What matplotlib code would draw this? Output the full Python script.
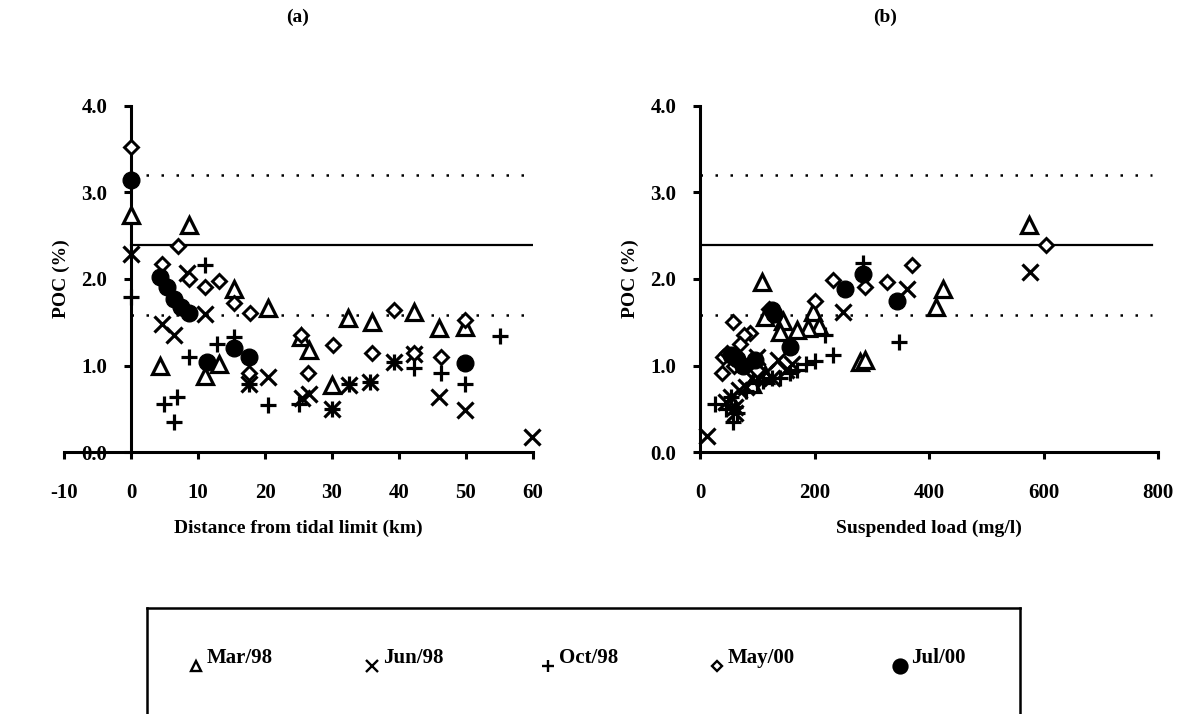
import matplotlib
matplotlib.use('Agg')
import matplotlib.pyplot as plt

plt.rcParams['font.family'] = ['Liberation Serif', 'DejaVu Serif']
plt.rcParams['font.weight'] = 'bold'
plt.rcParams['axes.unicode_minus'] = False

# POC (%) against distance from the tidal limit (km)
mar98_dist = [0, 8.7, 15.3, 20.5, 4.4, 11.1, 13.2, 25.3, 26.5, 30.0, 32.4, 35.9, 42.3, 45.9, 49.9]
mar98_poc_a = [2.74, 2.62, 1.88, 1.66, 1.00, 0.88, 1.02, 1.33, 1.18, 0.77, 1.55, 1.50, 1.62, 1.43, 1.45]
jun98_dist = [0, 8.4, 11.1, 4.6, 6.4, 17.6, 20.5, 25.5, 26.5, 30.0, 32.5, 35.7, 39.3, 42.3, 45.9, 49.9, 59.9]
jun98_poc_a = [2.29, 2.07, 1.59, 1.48, 1.35, 0.79, 0.87, 0.62, 0.67, 0.50, 0.77, 0.81, 1.04, 1.13, 0.64, 0.49, 0.17]
oct98_dist = [0, 11.1, 8.6, 12.8, 15.3, 17.6, 20.5, 4.9, 6.9, 6.4, 25.0, 30.0, 32.5, 35.7, 39.3, 42.3, 46.2, 49.9, 55.0]
oct98_poc_a = [1.79, 2.16, 1.10, 1.25, 1.33, 0.79, 0.54, 0.56, 0.64, 0.35, 0.55, 0.50, 0.79, 0.81, 1.04, 0.97, 0.91, 0.79, 1.34]
may00_dist = [0, 7.0, 4.6, 8.6, 11.1, 13.1, 15.3, 17.7, 17.6, 25.3, 26.4, 30.1, 35.9, 39.3, 42.3, 46.2, 49.9]
may00_poc_a = [3.53, 2.38, 2.17, 2.00, 1.91, 1.98, 1.72, 1.61, 0.91, 1.35, 0.91, 1.24, 1.15, 1.64, 1.15, 1.10, 1.53]
jul00_dist = [0, 4.3, 5.4, 6.4, 7.4, 8.6, 11.3, 15.3, 17.6, 49.9]
jul00_poc_a = [3.14, 2.02, 1.91, 1.77, 1.68, 1.61, 1.04, 1.20, 1.10, 1.03]

# POC (%) against suspended load (mg/l)
mar98_load = [575, 425, 413, 108, 114, 198, 207, 189, 169, 145, 140, 279, 288, 114, 90]
mar98_poc_b = [2.62, 1.89, 1.68, 1.97, 1.56, 1.62, 1.46, 1.43, 1.41, 1.52, 1.39, 1.04, 1.06, 0.89, 0.79]
jun98_load = [576, 361, 250, 137, 12, 55, 61, 125, 68, 45, 90, 150, 115, 80, 160, 100, 62]
jun98_poc_b = [2.08, 1.89, 1.62, 1.06, 0.18, 0.64, 0.52, 0.85, 0.72, 0.58, 0.85, 0.95, 0.92, 0.75, 1.02, 1.10, 0.45]
oct98_load = [285, 348, 218, 233, 186, 157, 125, 26, 58, 55, 61, 170, 140, 80, 100, 45, 200, 65, 110]
oct98_poc_b = [2.18, 1.27, 1.35, 1.12, 1.02, 0.91, 0.85, 0.56, 0.35, 0.64, 0.52, 0.95, 0.85, 0.70, 0.80, 0.50, 1.05, 0.45, 0.82]
may00_load = [604, 370, 326, 288, 233, 201, 58, 87, 76, 70, 41, 38, 48, 60, 100, 130, 120]
may00_poc_b = [2.39, 2.16, 1.97, 1.91, 1.99, 1.75, 1.50, 1.37, 1.35, 1.25, 1.10, 0.91, 1.15, 1.00, 0.95, 1.60, 1.65]
jul00_load = [285, 253, 344, 125, 157, 64, 96, 55, 75, 130]
jul00_poc_b = [2.06, 1.89, 1.75, 1.64, 1.21, 1.08, 1.06, 1.12, 1.00, 1.60]

labels = ['Mar/98', 'Jun/98', 'Oct/98', 'May/00', 'Jul/00']

# reference levels (dotted, solid, dotted)
ref_levels = [3.2, 2.39, 1.58]
ref_styles = [(0, (1, 5)), '-', (0, (1, 5))]

styles = {
    'Mar/98': dict(marker='^', ms=11.5, mfc='white', mec='black', mew=2.3),
    'Jun/98': dict(marker='x', ms=11.5, mfc='none', mec='black', mew=2.3),
    'Oct/98': dict(marker='+', ms=11.5, mfc='none', mec='black', mew=2.3),
    'May/00': dict(marker='D', ms=7.5, mfc='white', mec='black', mew=2.1),
    'Jul/00': dict(marker='o', ms=12, mfc='black', mec='black', mew=1),
}

series_a = [(mar98_dist, mar98_poc_a), (jun98_dist, jun98_poc_a), (oct98_dist, oct98_poc_a),
            (may00_dist, may00_poc_a), (jul00_dist, jul00_poc_a)]
series_b = [(mar98_load, mar98_poc_b), (jun98_load, jun98_poc_b), (oct98_load, oct98_poc_b),
            (may00_load, may00_poc_b), (jul00_load, jul00_poc_b)]

fig = plt.figure(figsize=(11.84, 7.14), dpi=100)
ax_a = fig.add_axes([64 / 1184, 1 - 452 / 714, 469 / 1184, 346 / 714])
ax_b = fig.add_axes([700 / 1184, 1 - 452 / 714, 458 / 1184, 346 / 714])


def setup(ax, xlim, xticks, xlabel, line_end):
    ax.set_xlim(*xlim)
    ax.set_ylim(0, 4)
    for s in ['top', 'right']:
        ax.spines[s].set_visible(False)
    ax.spines['left'].set_position(('data', 0))
    ax.spines['left'].set_linewidth(2.2)
    ax.spines['bottom'].set_linewidth(2.2)
    ax.set_xticks(xticks)
    ax.set_yticks([0, 1, 2, 3, 4])
    ax.set_yticklabels(['0.0', '1.0', '2.0', '3.0', '4.0'])
    ax.tick_params(direction='out', length=5, width=2.2, labelsize=15)
    ax.tick_params(axis='y', pad=12)
    ax.tick_params(axis='x', pad=17)
    ax.set_xlabel(xlabel, fontsize=14, fontweight='bold', labelpad=12)
    ax.set_ylabel('POC (%)', fontsize=14, fontweight='bold', labelpad=8)
    for lev, ls in zip(ref_levels, ref_styles):
        ax.plot([0, line_end], [lev, lev], color='black', lw=1.8 if ls != '-' else 1.6,
                ls=ls, zorder=1)


setup(ax_a, (-10, 60), range(-10, 61, 10), 'Distance from tidal limit (km)', 60)
setup(ax_b, (0, 800), range(0, 801, 200), 'Suspended load (mg/l)', 790)

for ax, series in [(ax_a, series_a), (ax_b, series_b)]:
    for lab, (xs, ys) in zip(labels, series):
        ax.plot(xs, ys, ls='none', clip_on=False, zorder=3, **styles[lab])

fig.text(298 / 1184, 1 - 17 / 714, '(a)', ha='center', va='center', fontsize=14, fontweight='bold')
fig.text(885 / 1184, 1 - 17 / 714, '(b)', ha='center', va='center', fontsize=14, fontweight='bold')

# legend box, open at the bottom
lax = fig.add_axes([147 / 1184, -0.1, 873 / 1184, 0.1 + 1 - 608 / 714])
lax.set_xlim(147, 1020)
lax.set_ylim(714 + 71.4, 608)
lax.set_xticks([])
lax.set_yticks([])
lax.spines['bottom'].set_visible(False)
for s in ['top', 'left', 'right']:
    lax.spines[s].set_linewidth(1.8)
lax.patch.set_alpha(0)

leg_x = [196, 372, 548, 717, 900]
leg_ms = {'Mar/98': 7, 'Jun/98': 8, 'Oct/98': 8, 'May/00': 5.5, 'Jul/00': 10}
for lab, x in zip(labels, leg_x):
    st = dict(styles[lab])
    st['ms'] = leg_ms[lab]
    st['mew'] = 1.7
    lax.plot([x], [666], ls='none', clip_on=False, **st)
    lax.text(x + 11, 658, lab, fontsize=15, fontweight='bold', ha='left', va='center')

fig.savefig('out.png', dpi=100)
